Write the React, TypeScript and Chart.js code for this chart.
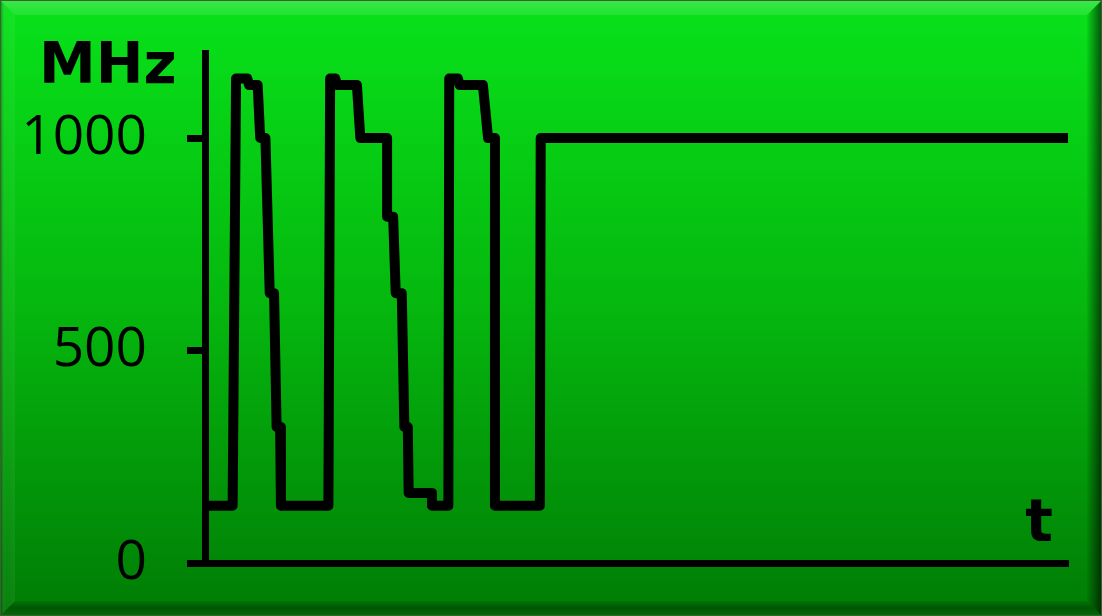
import React, { useEffect, useRef } from "react";
import { Chart, registerables } from "chart.js";

Chart.register(...registerables);

// time (arbitrary units, axis 0..100) and frequency (MHz)
const TIME: number[] = [
  0.4, 3.2, 3.6, 4.9, 5.1, 6.1, 6.4, 7.0, 7.5, 8.0, 8.3, 8.7, 8.8,
  14.3, 14.5, 15.1, 15.3, 17.6, 18.0, 21.1, 21.1, 21.8, 22.1, 22.8, 23.1, 23.5, 23.6, 26.3, 26.3,
  28.2, 28.3, 29.3, 29.5, 32.2, 32.8, 33.6, 33.6, 38.8, 38.9, 100,
];
const MHZ: number[] = [
  135, 135, 1140, 1140, 1125, 1125, 1000, 1000, 635, 635, 320, 320, 135,
  135, 1140, 1140, 1125, 1125, 1000, 1000, 815, 815, 635, 635, 320, 320, 165, 165, 135,
  135, 1140, 1140, 1125, 1125, 1000, 1000, 135, 135, 1000, 1000,
];
const Y_TICKS: number[] = [0, 500, 1000];
const Y_TITLE = "MHz";
const X_TITLE = "t";

const W = 1102;
const H = 616;

const bevelPlugin = {
  id: "bevelBackground",
  beforeDraw(chart: any) {
    const ctx = chart.ctx as CanvasRenderingContext2D;
    const b = 14;
    ctx.save();
    ctx.fillStyle = "#3f5f33";
    ctx.fillRect(0, 0, W, H);
    const g = ctx.createLinearGradient(0, 0, 0, H);
    g.addColorStop(0, "#08e21a");
    g.addColorStop(0.5, "#05b70e");
    g.addColorStop(1, "#007c05");
    ctx.fillStyle = g;
    ctx.fillRect(1, 1, W - 2, H - 2);
    const x0 = 1, y0 = 1, x1 = W - 1, y1 = H - 1;
    // top bevel
    ctx.beginPath();
    ctx.moveTo(x0, y0); ctx.lineTo(x1, y0); ctx.lineTo(x1 - b, y0 + b); ctx.lineTo(x0 + b, y0 + b); ctx.closePath();
    const gt = ctx.createLinearGradient(0, y0, 0, y0 + b);
    gt.addColorStop(0, "rgba(255,255,255,0.2)");
    gt.addColorStop(1, "rgba(255,255,255,0.1)");
    ctx.fillStyle = gt; ctx.fill();
    // left bevel
    ctx.beginPath();
    ctx.moveTo(x0, y0); ctx.lineTo(x0 + b, y0 + b); ctx.lineTo(x0 + b, y1 - b); ctx.lineTo(x0, y1); ctx.closePath();
    const gl = ctx.createLinearGradient(x0, 0, x0 + b, 0);
    gl.addColorStop(0, "rgba(0,0,0,0.25)");
    gl.addColorStop(0.35, "rgba(255,255,255,0.03)");
    gl.addColorStop(1, "rgba(255,255,255,0.06)");
    ctx.fillStyle = gl; ctx.fill();
    // right bevel
    ctx.beginPath();
    ctx.moveTo(x1, y0); ctx.lineTo(x1, y1); ctx.lineTo(x1 - b, y1 - b); ctx.lineTo(x1 - b, y0 + b); ctx.closePath();
    const gr = ctx.createLinearGradient(x1 - b, 0, x1, 0);
    gr.addColorStop(0, "rgba(0,0,0,0.05)");
    gr.addColorStop(1, "rgba(0,0,0,0.6)");
    ctx.fillStyle = gr; ctx.fill();
    // bottom bevel
    ctx.beginPath();
    ctx.moveTo(x0, y1); ctx.lineTo(x0 + b, y1 - b); ctx.lineTo(x1 - b, y1 - b); ctx.lineTo(x1, y1); ctx.closePath();
    const gb = ctx.createLinearGradient(0, y1 - b, 0, y1);
    gb.addColorStop(0, "rgba(0,0,0,0.08)");
    gb.addColorStop(0.5, "rgba(0,0,0,0.32)");
    gb.addColorStop(1, "rgba(0,0,0,0.15)");
    ctx.fillStyle = gb; ctx.fill();
    ctx.restore();
  },
  afterDraw(chart: any) {
    const ctx = chart.ctx as CanvasRenderingContext2D;
    ctx.save();
    ctx.fillStyle = "#000";
    ctx.textBaseline = "alphabetic";
    ctx.font = "bold 57px 'DejaVu Sans'";
    ctx.textAlign = "left";
    ctx.fillText(Y_TITLE, 39, 83);
    ctx.font = "bold 58px 'DejaVu Sans'";
    ctx.textAlign = "right";
    ctx.fillText(X_TITLE, 1053, 541);
    ctx.restore();
  },
};

export default function App() {
  const ref = useRef<HTMLCanvasElement | null>(null);

  useEffect(() => {
    document.body.style.margin = "0";
    if (!ref.current) return;
    const chart = new Chart(ref.current, {
      type: "line",
      data: {
        datasets: [
          {
            data: TIME.map((t, i) => ({ x: t, y: MHZ[i] })),
            borderColor: "#000",
            borderWidth: 10,
            borderJoinStyle: "round",
            borderCapStyle: "butt",
            pointRadius: 0,
            tension: 0,
            fill: false,
          },
        ],
      },
      options: {
        responsive: false,
        animation: false,
        events: [],
        layout: { padding: { left: 0, right: 34, top: 53, bottom: 53 } },
        plugins: { legend: { display: false }, tooltip: { enabled: false }, title: { display: false } },
        scales: {
          x: {
            type: "linear",
            min: 0,
            max: 100,
            ticks: { display: false },
            grid: { display: true, drawOnChartArea: false, drawTicks: false },
            border: { display: true, color: "#000", width: 7 },
            afterFit: (s: any) => {
              s.height = 0;
              s.paddingLeft = 0;
              s.paddingRight = 0;
            },
          },
          y: {
            type: "linear",
            min: 0,
            max: 1200,
            afterBuildTicks: (s: any) => { s.ticks = Y_TICKS.map((v) => ({ value: v })); },
            ticks: {
              color: "#000",
              padding: 40,
              font: { family: "'Open Sans'", size: 55 },
              callback: (v: any) => String(v),
            },
            grid: {
              display: true,
              drawOnChartArea: false,
              drawTicks: true,
              tickLength: 18,
              color: "#000",
              lineWidth: 7,
            },
            border: { display: true, color: "#000", width: 7 },
            afterFit: (s: any) => {
              s.width = 205;
              s.paddingTop = 0;
              s.paddingBottom = 0;
            },
          },
        },
      },
      plugins: [bevelPlugin],
    });
    return () => chart.destroy();
  }, []);

  return (
    <div style={{ position: "fixed", left: 0, top: 0, width: W, height: H }}>
      <canvas ref={ref} width={W} height={H} style={{ display: "block", width: W, height: H }} />
    </div>
  );
}
